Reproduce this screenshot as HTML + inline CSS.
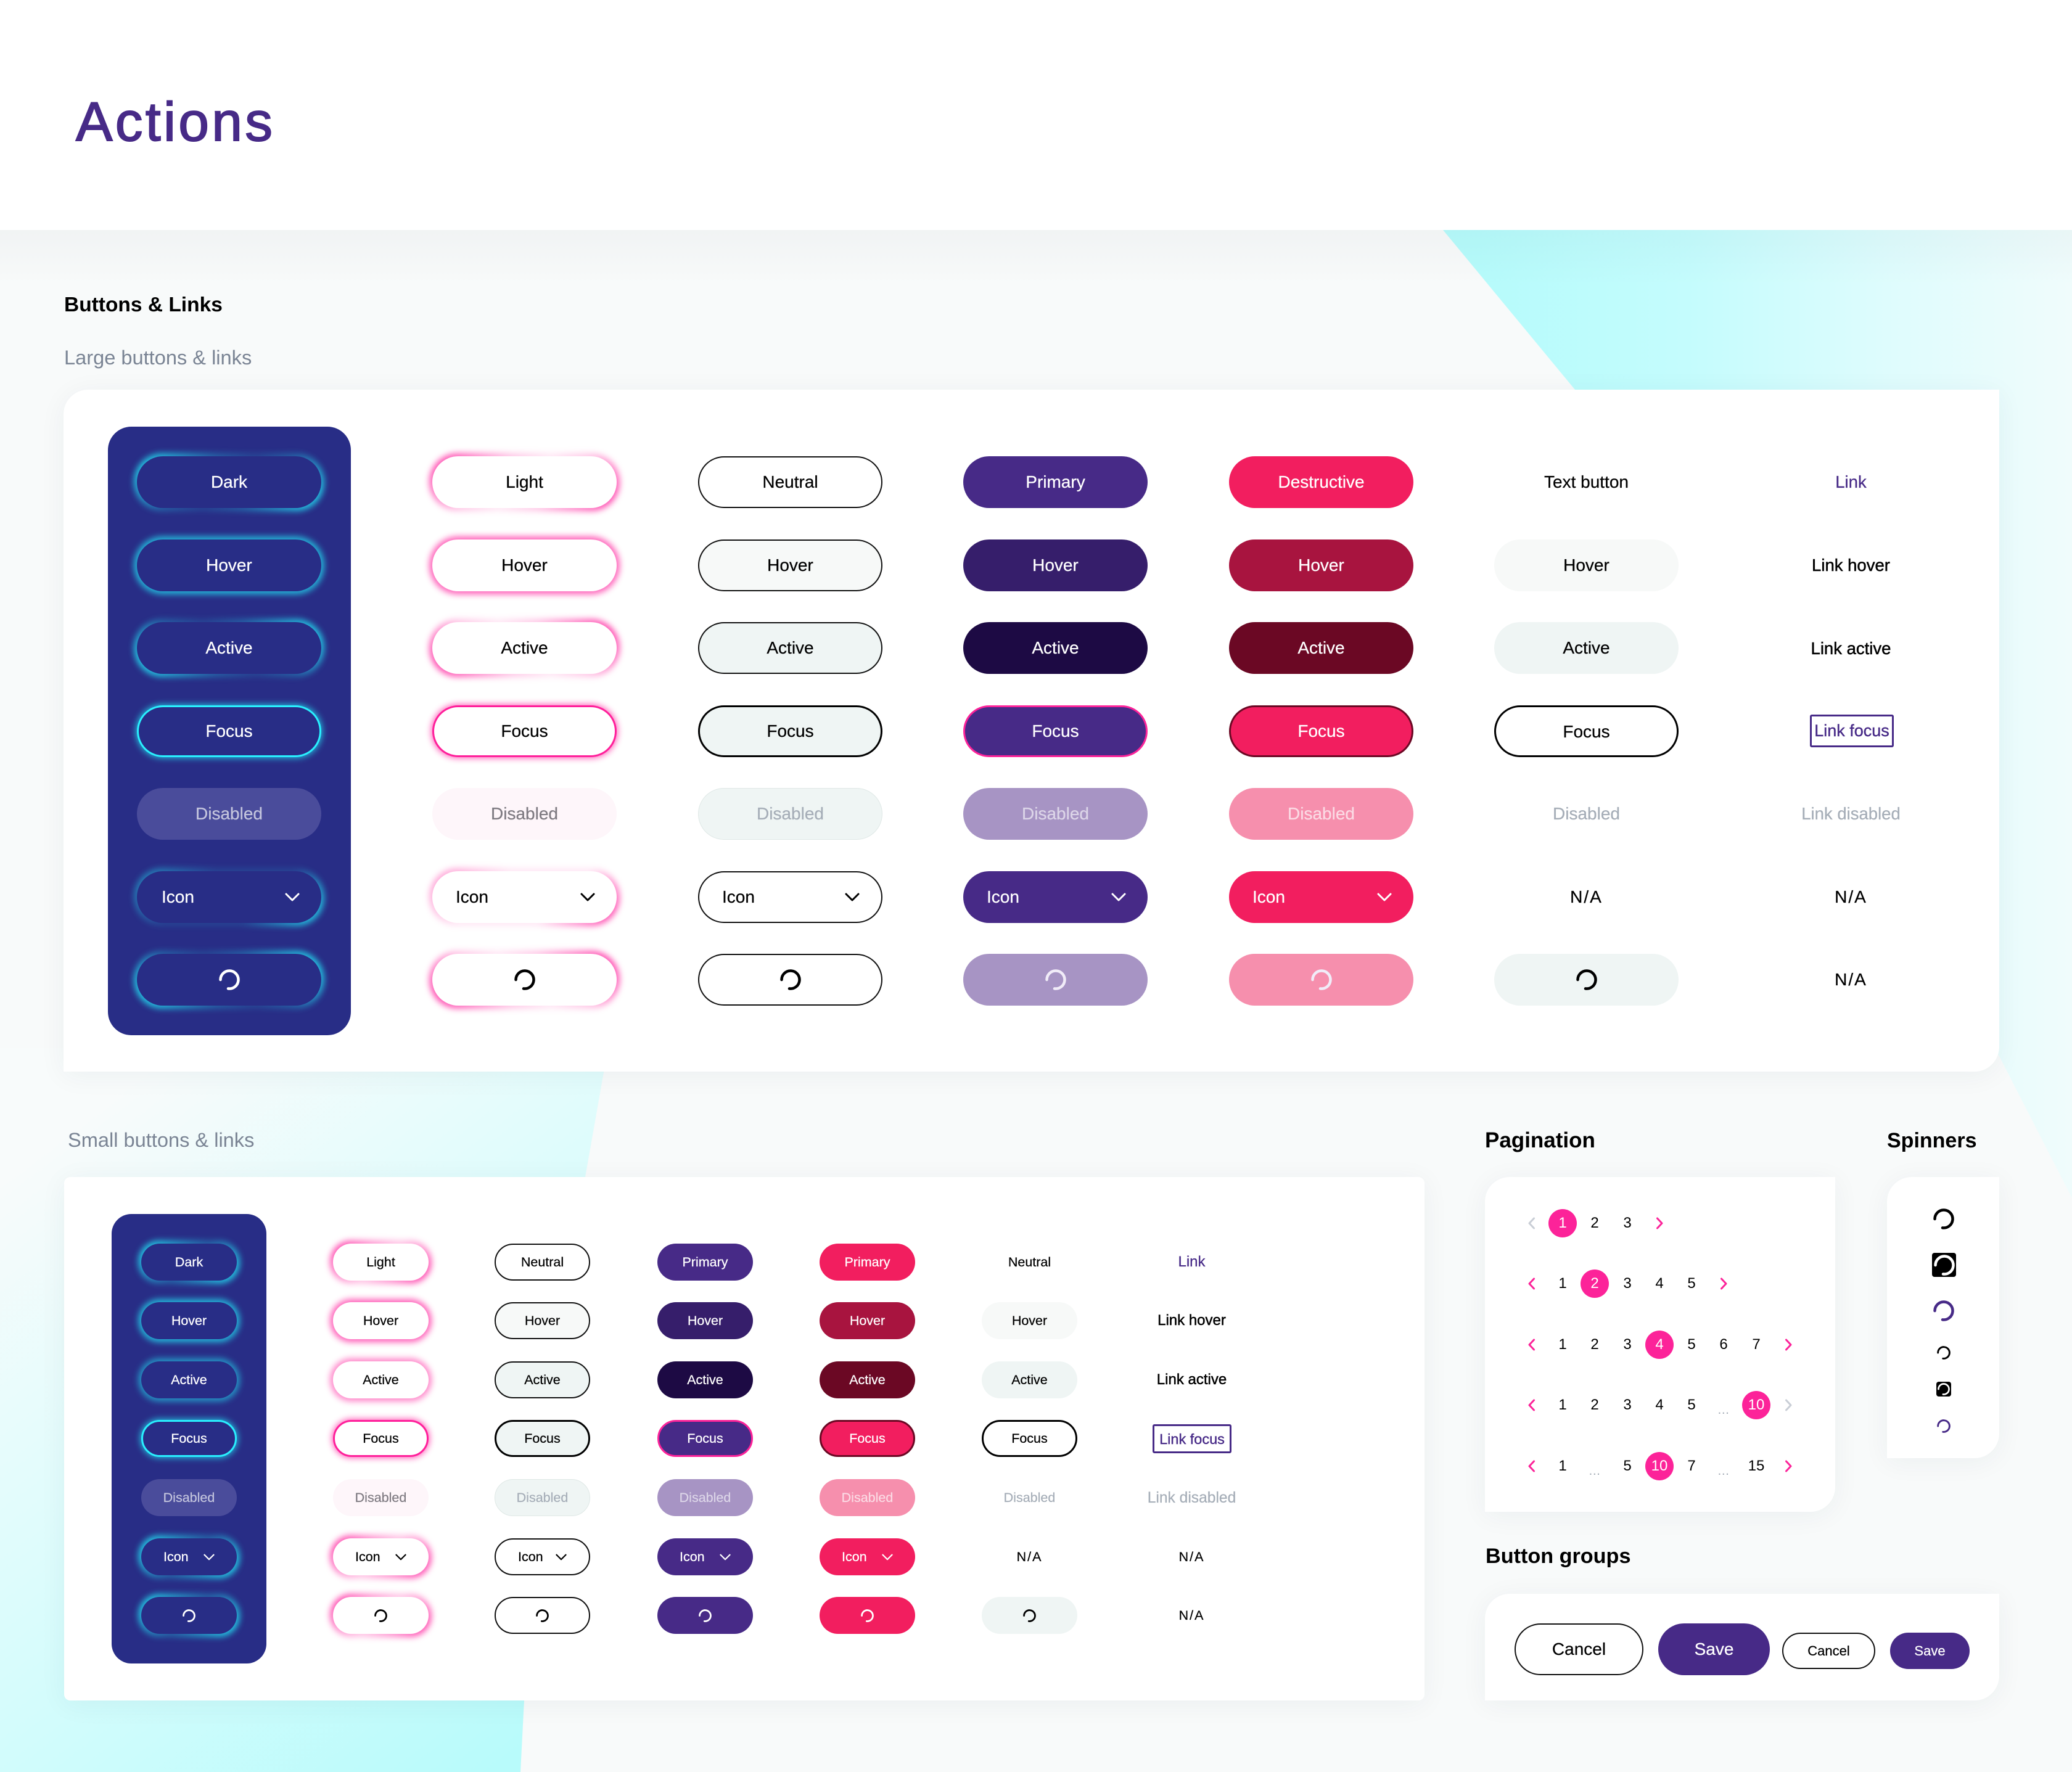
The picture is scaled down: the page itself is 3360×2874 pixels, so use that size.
<!DOCTYPE html>
<html lang="en">
<head>
<meta charset="utf-8">
<title>Actions</title>
<style>
*{box-sizing:border-box}
html,body{margin:0;padding:0}
body{width:3360px;height:2874px;position:relative;overflow:hidden;background:#f8fafa;font-family:"Liberation Sans",sans-serif;color:#000}
.bg{position:absolute;left:0;top:0}
.hdr{position:absolute;left:0;top:0;width:3360px;height:373px;background:#fff}
.hs{position:absolute;left:0;top:373px;width:3360px;height:90px;background:linear-gradient(rgba(20,40,60,.03),rgba(20,40,60,0))}
.h{position:absolute;line-height:1;white-space:nowrap;margin:0}
.card{position:absolute;background:#fff;box-shadow:0 6px 44px rgba(20,50,70,.055)}
.panel{position:absolute;background:#282d86}
.layer{position:absolute;left:0;top:0;width:3360px;height:2874px;isolation:isolate}
.b{position:absolute;display:flex;align-items:center;justify-content:center;border-radius:60px;white-space:nowrap;-webkit-text-stroke:.25px currentColor}
.L{width:299px;height:84px;font-size:28px}
.S{width:155px;height:60px;font-size:21.5px}
.gl::before{content:"";position:absolute;z-index:-1;left:-5px;right:-5px;top:-5px;bottom:-5px;border-radius:60px;filter:blur(5px)}
.k{background:#282d86;color:#fff;--g:#22e8f8;--g0:rgba(34,232,248,.28);--g1:rgba(34,232,248,.12);--g5:rgba(34,232,248,.55)}
.w{background:#fff;color:#000;--g:#ff27a0;--g0:rgba(255,39,160,.26);--g1:rgba(255,39,160,.1);--g5:rgba(255,39,160,.5)}
.tl::before{background:linear-gradient(135deg,var(--g),var(--g0) 34%,var(--g1) 50%,var(--g0) 66%,var(--g))}
.tr::before{background:linear-gradient(45deg,var(--g),var(--g0) 34%,var(--g1) 50%,var(--g0) 66%,var(--g))}
.S.tl::before{background:linear-gradient(135deg,var(--g),var(--g5) 30%,var(--g0) 50%,var(--g5) 70%,var(--g))}
.al::before{background:var(--g);opacity:.72}
.al2::before{background:var(--g);opacity:.55}
.ic::before{background:linear-gradient(135deg,var(--g5),var(--g1) 34%,var(--g1) 66%,var(--g))}
.fo::before{background:var(--g);opacity:.7}
.k.fo{border:3px solid #29f0ff}
.w.fo{border:3px solid #ff1f9a}
.kd{background:#4a4c9b;color:#c3c4dd}
.wd{background:#fef6fa;color:#7f7b82}
.n{background:#fff;border:2px solid #111;color:#000}
.n1{background:#f7f9f8;border:2px solid #111}
.n2{background:#eff5f4;border:2px solid #111}
.nf{background:#eff5f4;border:3px solid #000}
.nd{background:#eff5f4;border:1px solid #dfe8e6;color:#a6aeb8}
.p{background:#472a87;color:#fff}
.p1{background:#361e6b;color:#fff}
.p2{background:#1d0a44;color:#fff}
.pf{background:#472a87;color:#fff;border:3px solid #fc2399}
.pd{background:#a794c4;color:#dcd5e8}
.d{background:#f21e5f;color:#fff}
.d1{background:#a8143f;color:#fff}
.d2{background:#6b0824;color:#fff}
.df{background:#f21e5f;color:#fff;border:3px solid #6b0824}
.dd{background:#f68fad;color:#fbdae4}
.t{color:#000}
.t1{background:#f7f9f8}
.t2{background:#eff5f4}
.tf{background:#fff;border:3px solid #000;padding-top:2px}
.td{color:#a6aeb8}
.na{letter-spacing:2px}
.lk{color:#472a87}
.lh{color:#000;-webkit-text-stroke:.5px #000}
.lb{font-size:27.5px}
.sl{font-size:24px}
.lfb{position:absolute;display:flex;align-items:center;justify-content:center;border:3px solid #472a87;border-radius:3px;color:#472a87;-webkit-text-stroke:.4px #472a87;white-space:nowrap}
.sb{justify-content:space-between;padding:0 35px 0 40px}
.L.w.sb,.L.p.sb,.L.d.sb{padding-left:38px}
.L.n.sb{padding-left:37px}
.S.sb{padding:0 36px 0 36px}
.spin{display:block;width:34px;height:34px}
.S .spin{width:21px;height:21px}
.pd .spin,.dd .spin{color:#f1ecf8}
.chev{display:block;width:24px;height:14px}
.S .chev{width:18px;height:11px}
/* large columns */
.lc1{left:222px}.lc2{left:701px}.lc3{left:1132px}.lc4{left:1562px}.lc5{left:1993px}.lc6{left:2423px}.lc7{left:2852px}
.lr1{top:740px}.lr2{top:875px}.lr3{top:1009px}.lr4{top:1144px}.lr5{top:1278px}.lr6{top:1413px}.lr7{top:1547px}
/* small columns */
.sc1{left:229px}.sc2{left:540px}.sc3{left:802px}.sc4{left:1066px}.sc5{left:1329px}.sc6{left:1592px}.sc7{left:1855px}
.sr1{top:2017px}.sr2{top:2112px}.sr3{top:2208px}.sr4{top:2303px}.sr5{top:2399px}.sr6{top:2495px}.sr7{top:2590px}
/* pagination */
.pg{position:absolute;width:46px;height:46px;display:flex;align-items:center;justify-content:center;font-size:24px;border-radius:50%;color:#000}
.pa{background:#fc2399;color:#fff}
.pe{color:#a6aeb8;font-size:21px;letter-spacing:.5px;padding-top:16px}
.pc0{left:2460px}.pc1{left:2511px}.pc2{left:2563px}.pc3{left:2616px}.pc4{left:2668px}.pc5{left:2720px}.pc6{left:2772px}.pc7{left:2825px}.pc8{left:2877px}
.pr0{top:1961px}.pr1{top:2059px}.pr2{top:2158px}.pr3{top:2256px}.pr4{top:2355px}
.cv{display:block;width:13px;height:20px}
.on{color:#fc2399}.off{color:#c9ced6}
.sp{position:absolute;display:block}
.box{position:absolute;background:#000;border-radius:4px;display:flex;align-items:center;justify-content:center;color:#fff}
</style>
</head>
<body>
<svg width="0" height="0" style="position:absolute">
<symbol id="spin" viewBox="0 0 34 34"><path d="M2.5 17A14.5 14.5 0 1 1 15 31.4" fill="none" stroke="currentColor" stroke-width="4.5" stroke-linecap="round"/></symbol>
<symbol id="chev" viewBox="0 0 24 14"><path d="M2 2L12 12L22 2" fill="none" stroke="currentColor" stroke-width="3" stroke-linecap="round" stroke-linejoin="round"/></symbol>
<symbol id="cl" viewBox="0 0 13 20"><path d="M10.5 2L3 10L10.5 18" fill="none" stroke="currentColor" stroke-width="3" stroke-linecap="round" stroke-linejoin="round"/></symbol>
<symbol id="cr" viewBox="0 0 13 20"><path d="M2.5 2L10 10L2.5 18" fill="none" stroke="currentColor" stroke-width="3" stroke-linecap="round" stroke-linejoin="round"/></symbol>
</svg>

<svg class="bg" width="3360" height="2874" viewBox="0 0 3360 2874">
<defs>
<linearGradient id="gr1" gradientUnits="userSpaceOnUse" x1="2400" y1="0" x2="3360" y2="0"><stop offset="0" stop-color="#b6fbfb"/><stop offset=".35" stop-color="#c4fcfd"/><stop offset=".7" stop-color="#dffcfd"/><stop offset="1" stop-color="#f0fcfc"/></linearGradient>
<linearGradient id="gr2" gradientUnits="userSpaceOnUse" x1="150" y1="1800" x2="900" y2="2800"><stop offset="0" stop-color="#f8fbfb"/><stop offset=".45" stop-color="#dcfcfc"/><stop offset="1" stop-color="#b8fbfb"/></linearGradient>
</defs>
<polygon points="2340,373 3360,373 3360,1943 3242,1713 2900,1200 2554,632" fill="url(#gr1)"/>
<polygon points="0,1700 985,1700 979,1739 949,1909 850,2758 844,2874 0,2874" fill="url(#gr2)"/>
</svg>

<div class="hdr"></div>
<div class="hs"></div>
<h1 class="h" style="left:123px;top:153px;font-size:89px;font-weight:400;letter-spacing:4.5px;color:#472a87;-webkit-text-stroke:2px #472a87">Actions</h1>
<h2 class="h" style="left:104px;top:478px;font-size:33.5px;font-weight:700">Buttons &amp; Links</h2>
<h3 class="h" style="left:104px;top:564px;font-size:32.6px;font-weight:400;color:#7a8494">Large buttons &amp; links</h3>
<h3 class="h" style="left:110px;top:1833px;font-size:32.6px;font-weight:400;color:#7a8494">Small buttons &amp; links</h3>
<h2 class="h" style="left:2408px;top:1832px;font-size:35px;font-weight:700">Pagination</h2>
<h2 class="h" style="left:3060px;top:1833px;font-size:34px;font-weight:700">Spinners</h2>
<h2 class="h" style="left:2409px;top:2507px;font-size:34.2px;font-weight:700">Button groups</h2>

<div class="card" style="left:103px;top:632px;width:3139px;height:1106px;border-radius:40px 0 40px 0"></div>
<div class="card" style="left:104px;top:1909px;width:2206px;height:849px;border-radius:10px"></div>
<div class="card" style="left:2408px;top:1909px;width:568px;height:543px;border-radius:40px 0 40px 0"></div>
<div class="card" style="left:3060px;top:1909px;width:182px;height:456px;border-radius:40px 0 40px 0"></div>
<div class="card" style="left:2408px;top:2585px;width:834px;height:173px;border-radius:40px 0 40px 0"></div>
<div class="panel" style="left:175px;top:692px;width:394px;height:987px;border-radius:38px"></div>
<div class="panel" style="left:181px;top:1969px;width:251px;height:729px;border-radius:32px"></div>

<div class="layer">
<!-- Large dark -->
<div class="b L gl k tl lc1 lr1">Dark</div>
<div class="b L gl k al lc1 lr2">Hover</div>
<div class="b L gl k tr lc1 lr3">Active</div>
<div class="b L gl k fo lc1 lr4">Focus</div>
<div class="b L kd lc1 lr5">Disabled</div>
<div class="b L gl k ic sb lc1 lr6">Icon<svg class="chev"><use href="#chev"/></svg></div>
<div class="b L gl k tr lc1 lr7"><svg class="spin"><use href="#spin"/></svg></div>
<!-- Large light -->
<div class="b L gl w tl lc2 lr1">Light</div>
<div class="b L gl w al lc2 lr2">Hover</div>
<div class="b L gl w tr lc2 lr3">Active</div>
<div class="b L gl w fo lc2 lr4">Focus</div>
<div class="b L wd lc2 lr5">Disabled</div>
<div class="b L gl w ic sb lc2 lr6">Icon<svg class="chev"><use href="#chev"/></svg></div>
<div class="b L gl w tr lc2 lr7"><svg class="spin"><use href="#spin"/></svg></div>
<!-- Large neutral -->
<div class="b L n lc3 lr1">Neutral</div>
<div class="b L n1 lc3 lr2">Hover</div>
<div class="b L n2 lc3 lr3">Active</div>
<div class="b L nf lc3 lr4">Focus</div>
<div class="b L nd lc3 lr5">Disabled</div>
<div class="b L n sb lc3 lr6">Icon<svg class="chev"><use href="#chev"/></svg></div>
<div class="b L n lc3 lr7"><svg class="spin"><use href="#spin"/></svg></div>
<!-- Large primary -->
<div class="b L p lc4 lr1">Primary</div>
<div class="b L p1 lc4 lr2">Hover</div>
<div class="b L p2 lc4 lr3">Active</div>
<div class="b L pf lc4 lr4">Focus</div>
<div class="b L pd lc4 lr5">Disabled</div>
<div class="b L p sb lc4 lr6">Icon<svg class="chev"><use href="#chev"/></svg></div>
<div class="b L pd lc4 lr7"><svg class="spin"><use href="#spin"/></svg></div>
<!-- Large destructive -->
<div class="b L d lc5 lr1">Destructive</div>
<div class="b L d1 lc5 lr2">Hover</div>
<div class="b L d2 lc5 lr3">Active</div>
<div class="b L df lc5 lr4">Focus</div>
<div class="b L dd lc5 lr5">Disabled</div>
<div class="b L d sb lc5 lr6">Icon<svg class="chev"><use href="#chev"/></svg></div>
<div class="b L dd lc5 lr7"><svg class="spin"><use href="#spin"/></svg></div>
<!-- Large text -->
<div class="b L t lc6 lr1">Text button</div>
<div class="b L t1 lc6 lr2">Hover</div>
<div class="b L t2 lc6 lr3">Active</div>
<div class="b L tf lc6 lr4">Focus</div>
<div class="b L td lc6 lr5">Disabled</div>
<div class="b L t na lc6 lr6">N/A</div>
<div class="b L t2 lc6 lr7"><svg class="spin"><use href="#spin"/></svg></div>
<!-- Large link -->
<div class="b L lk lb lc7 lr1">Link</div>
<div class="b L lh lb lc7 lr2">Link hover</div>
<div class="b L lh lb lc7 lr3" style="padding-top:2px">Link active</div>
<div class="lfb" style="left:2935px;top:1159px;width:136px;height:53px;font-size:27px">Link focus</div>
<div class="b L td lb lc7 lr5">Link disabled</div>
<div class="b L t na lc7 lr6">N/A</div>
<div class="b L t na lc7 lr7">N/A</div>

<!-- Small dark -->
<div class="b S gl k tl sc1 sr1">Dark</div>
<div class="b S gl k al sc1 sr2">Hover</div>
<div class="b S gl k al2 sc1 sr3">Active</div>
<div class="b S gl k fo sc1 sr4">Focus</div>
<div class="b S kd sc1 sr5">Disabled</div>
<div class="b S gl k tl sb sc1 sr6">Icon<svg class="chev"><use href="#chev"/></svg></div>
<div class="b S gl k tl sc1 sr7"><svg class="spin"><use href="#spin"/></svg></div>
<!-- Small light -->
<div class="b S gl w tl sc2 sr1">Light</div>
<div class="b S gl w al sc2 sr2">Hover</div>
<div class="b S gl w al2 sc2 sr3">Active</div>
<div class="b S gl w fo sc2 sr4">Focus</div>
<div class="b S wd sc2 sr5">Disabled</div>
<div class="b S gl w tl sb sc2 sr6">Icon<svg class="chev"><use href="#chev"/></svg></div>
<div class="b S gl w tl sc2 sr7"><svg class="spin"><use href="#spin"/></svg></div>
<!-- Small neutral -->
<div class="b S n sc3 sr1">Neutral</div>
<div class="b S n1 sc3 sr2">Hover</div>
<div class="b S n2 sc3 sr3">Active</div>
<div class="b S nf sc3 sr4">Focus</div>
<div class="b S nd sc3 sr5">Disabled</div>
<div class="b S n sb sc3 sr6">Icon<svg class="chev"><use href="#chev"/></svg></div>
<div class="b S n sc3 sr7"><svg class="spin"><use href="#spin"/></svg></div>
<!-- Small primary -->
<div class="b S p sc4 sr1">Primary</div>
<div class="b S p1 sc4 sr2">Hover</div>
<div class="b S p2 sc4 sr3">Active</div>
<div class="b S pf sc4 sr4">Focus</div>
<div class="b S pd sc4 sr5">Disabled</div>
<div class="b S p sb sc4 sr6">Icon<svg class="chev"><use href="#chev"/></svg></div>
<div class="b S p sc4 sr7"><svg class="spin"><use href="#spin"/></svg></div>
<!-- Small destructive -->
<div class="b S d sc5 sr1">Primary</div>
<div class="b S d1 sc5 sr2">Hover</div>
<div class="b S d2 sc5 sr3">Active</div>
<div class="b S df sc5 sr4">Focus</div>
<div class="b S dd sc5 sr5">Disabled</div>
<div class="b S d sb sc5 sr6">Icon<svg class="chev"><use href="#chev"/></svg></div>
<div class="b S d sc5 sr7"><svg class="spin"><use href="#spin"/></svg></div>
<!-- Small text -->
<div class="b S t sc6 sr1">Neutral</div>
<div class="b S t1 sc6 sr2">Hover</div>
<div class="b S t2 sc6 sr3">Active</div>
<div class="b S tf sc6 sr4" style="padding-top:0">Focus</div>
<div class="b S td sc6 sr5">Disabled</div>
<div class="b S t na sc6 sr6">N/A</div>
<div class="b S t2 sc6 sr7"><svg class="spin"><use href="#spin"/></svg></div>
<!-- Small link -->
<div class="b S lk sl sc7 sr1">Link</div>
<div class="b S lh sl sc7 sr2">Link hover</div>
<div class="b S lh sl sc7 sr3">Link active</div>
<div class="lfb" style="left:1869px;top:2310px;width:128px;height:47px;font-size:23.5px;padding-top:2px">Link focus</div>
<div class="b S td sl sc7 sr5" style="padding-top:2px;font-size:24.6px">Link disabled</div>
<div class="b S t na sc7 sr6">N/A</div>
<div class="b S t na sc7 sr7">N/A</div>

<!-- Pagination row 1 -->
<div class="pg off pc0 pr0"><svg class="cv"><use href="#cl"/></svg></div>
<div class="pg pa pc1 pr0">1</div>
<div class="pg pc2 pr0">2</div>
<div class="pg pc3 pr0">3</div>
<div class="pg on pc4 pr0"><svg class="cv"><use href="#cr"/></svg></div>
<!-- Pagination row 2 -->
<div class="pg on pc0 pr1"><svg class="cv"><use href="#cl"/></svg></div>
<div class="pg pc1 pr1">1</div>
<div class="pg pa pc2 pr1">2</div>
<div class="pg pc3 pr1">3</div>
<div class="pg pc4 pr1">4</div>
<div class="pg pc5 pr1">5</div>
<div class="pg on pc6 pr1"><svg class="cv"><use href="#cr"/></svg></div>
<!-- Pagination row 3 -->
<div class="pg on pc0 pr2"><svg class="cv"><use href="#cl"/></svg></div>
<div class="pg pc1 pr2">1</div>
<div class="pg pc2 pr2">2</div>
<div class="pg pc3 pr2">3</div>
<div class="pg pa pc4 pr2">4</div>
<div class="pg pc5 pr2">5</div>
<div class="pg pc6 pr2">6</div>
<div class="pg pc7 pr2">7</div>
<div class="pg on pc8 pr2"><svg class="cv"><use href="#cr"/></svg></div>
<!-- Pagination row 4 -->
<div class="pg on pc0 pr3"><svg class="cv"><use href="#cl"/></svg></div>
<div class="pg pc1 pr3">1</div>
<div class="pg pc2 pr3">2</div>
<div class="pg pc3 pr3">3</div>
<div class="pg pc4 pr3">4</div>
<div class="pg pc5 pr3">5</div>
<div class="pg pe pc6 pr3">...</div>
<div class="pg pa pc7 pr3">10</div>
<div class="pg off pc8 pr3"><svg class="cv"><use href="#cr"/></svg></div>
<!-- Pagination row 5 -->
<div class="pg on pc0 pr4"><svg class="cv"><use href="#cl"/></svg></div>
<div class="pg pc1 pr4">1</div>
<div class="pg pe pc2 pr4">...</div>
<div class="pg pc3 pr4">5</div>
<div class="pg pa pc4 pr4">10</div>
<div class="pg pc5 pr4">7</div>
<div class="pg pe pc6 pr4">...</div>
<div class="pg pc7 pr4">15</div>
<div class="pg on pc8 pr4"><svg class="cv"><use href="#cr"/></svg></div>

<!-- Spinners -->
<svg class="sp" style="left:3135px;top:1960px;width:34px;height:34px;color:#000"><use href="#spin"/></svg>
<div class="box" style="left:3133px;top:2032px;width:39px;height:39px"><svg style="width:34px;height:34px"><use href="#spin"/></svg></div>
<svg class="sp" style="left:3135px;top:2109px;width:34px;height:34px;color:#472a87"><use href="#spin"/></svg>
<svg class="sp" style="left:3141px;top:2183px;width:22px;height:22px;color:#000"><use href="#spin"/></svg>
<div class="box" style="left:3140px;top:2241px;width:24px;height:24px"><svg style="width:20px;height:20px"><use href="#spin"/></svg></div>
<svg class="sp" style="left:3141px;top:2302px;width:22px;height:22px;color:#472a87"><use href="#spin"/></svg>

<!-- Button groups -->
<div class="b n" style="left:2456px;top:2633px;width:209px;height:84px;font-size:28px">Cancel</div>
<div class="b p" style="left:2689px;top:2633px;width:181px;height:84px;font-size:28px">Save</div>
<div class="b n" style="left:2890px;top:2648px;width:151px;height:59px;font-size:22px">Cancel</div>
<div class="b p" style="left:3065px;top:2648px;width:129px;height:59px;font-size:22px">Save</div>
</div>
</body>
</html>
